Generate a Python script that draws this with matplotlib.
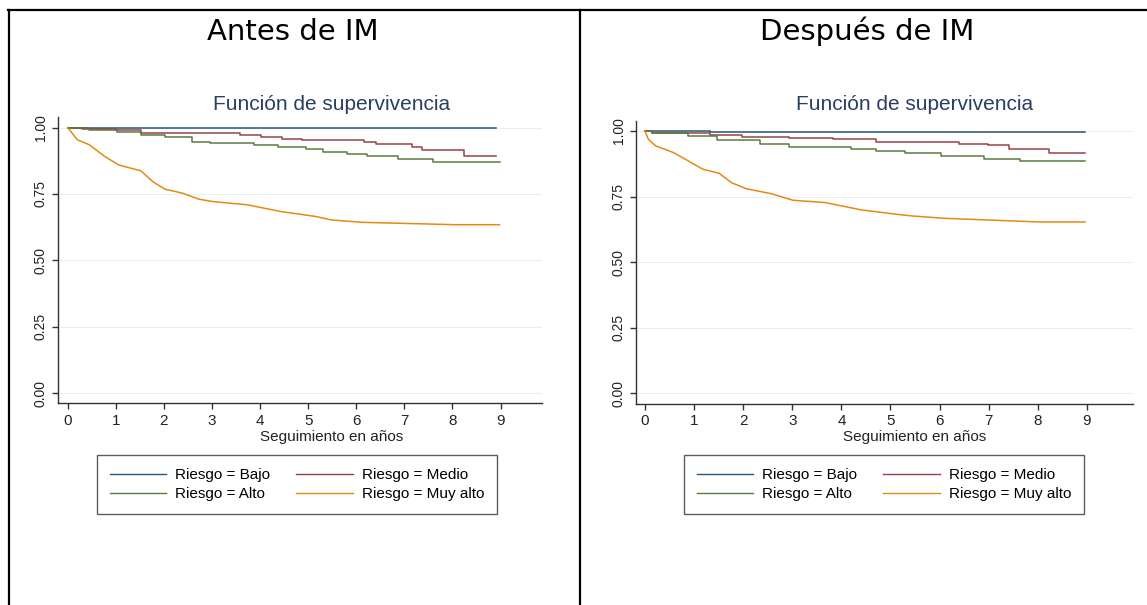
import matplotlib.pyplot as plt
import matplotlib.lines as mlines

plt.rcParams['font.family'] = ['Liberation Sans', 'DejaVu Sans']

# leyenda y colores (Stata s2color)
grupos = ['Riesgo = Bajo', 'Riesgo = Medio', 'Riesgo = Alto', 'Riesgo = Muy alto']
colores = ['#2b5478', '#94424a', '#5c7a3c', '#e38a12']

x_ticks = [0, 1, 2, 3, 4, 5, 6, 7, 8, 9]
y_ticks = [0.00, 0.25, 0.50, 0.75, 1.00]

# Antes de IM
antes_bajo_t = [0, 8.91]
antes_bajo_s = [1.0, 1.0]
antes_medio_t = [0, 0.3, 1.0, 1.52, 3.59, 4.02, 4.45, 4.88, 6.16, 6.41, 7.16, 7.37, 8.23, 8.91]
antes_medio_s = [1.0, 0.995, 0.99, 0.979, 0.970, 0.964, 0.957, 0.954, 0.947, 0.938, 0.928, 0.916, 0.893, 0.893]
antes_alto_t = [0, 0.45, 1.02, 1.52, 2.02, 2.59, 2.95, 3.88, 4.38, 4.95, 5.30, 5.80, 6.23, 6.87, 7.59, 8.98]
antes_alto_s = [1.0, 0.991, 0.985, 0.972, 0.964, 0.947, 0.941, 0.935, 0.926, 0.920, 0.907, 0.901, 0.893, 0.881, 0.872, 0.872]
antes_muyalto_t = [0, 0.20, 0.45, 0.77, 1.06, 1.52, 1.77, 2.02, 2.38, 2.73, 3.02, 3.73, 4.45, 5.16, 5.48, 6.12, 8.05, 8.98]
antes_muyalto_s = [1.0, 0.954, 0.935, 0.891, 0.859, 0.837, 0.796, 0.768, 0.753, 0.730, 0.721, 0.709, 0.683, 0.665, 0.652, 0.643, 0.634, 0.634]

# Despues de IM
desp_bajo_t = [0, 1.32, 8.96]
desp_bajo_s = [1.0, 0.996, 0.996]
desp_medio_t = [0, 0.15, 1.32, 1.98, 2.94, 3.82, 4.70, 6.39, 6.98, 7.42, 8.23, 8.96]
desp_medio_s = [1.0, 0.994, 0.983, 0.978, 0.975, 0.968, 0.958, 0.952, 0.945, 0.933, 0.915, 0.915]
desp_alto_t = [0, 0.15, 0.88, 1.47, 2.35, 2.94, 4.19, 4.70, 5.29, 6.02, 6.91, 7.64, 8.96]
desp_alto_s = [1.0, 0.994, 0.981, 0.966, 0.949, 0.940, 0.930, 0.924, 0.915, 0.905, 0.892, 0.884, 0.884]
desp_muyalto_t = [0, 0.07, 0.22, 0.59, 0.88, 1.18, 1.51, 1.76, 2.06, 2.57, 3.01, 3.67, 4.41, 5.14, 5.44, 6.10, 8.05, 8.96]
desp_muyalto_s = [1.0, 0.968, 0.943, 0.917, 0.886, 0.854, 0.839, 0.803, 0.780, 0.761, 0.736, 0.727, 0.699, 0.682, 0.676, 0.667, 0.653, 0.653]

W, H = 1147, 605
fig = plt.figure(figsize=(W / 100, H / 100), dpi=100)


def px(x0, x1, ytop, ybot):
    return [x0 / W, 1 - ybot / H, (x1 - x0) / W, (ybot - ytop) / H]


def panel(rect, xlim, ylim, curvas, cx, leg_cx, cab, cab_cx):
    ax = fig.add_axes(rect)
    for i, (t, s) in enumerate(curvas):
        if i == 3:
            ax.plot(t, s, color=colores[i], lw=1.1)
        else:
            ax.plot(t, s, color=colores[i], lw=1.1, drawstyle='steps-post')
    ax.set_xlim(*xlim)
    ax.set_ylim(*ylim)
    ax.set_xticks(x_ticks)
    ax.set_yticks(y_ticks)
    ax.set_yticklabels(['%.2f' % v for v in y_ticks], rotation=90, va='center')
    ax.tick_params(axis='both', length=4.5, width=1, color='#333333', labelcolor='#222222')
    ax.tick_params(axis='x', pad=3, labelsize=11)
    ax.tick_params(axis='y', pad=3, labelsize=10)
    for lab in ax.get_yticklabels():
        lab.set_va('center')
    ax.yaxis.grid(True, color='#e8eff1', lw=0.8)
    ax.set_axisbelow(True)
    for sp in ['top', 'right']:
        ax.spines[sp].set_visible(False)
    for sp in ['left', 'bottom']:
        ax.spines[sp].set_color('#333333')
        ax.spines[sp].set_linewidth(1.0)

    fig.text(cx / W, 1 - 110 / H, 'Función de supervivencia', ha='center', va='baseline',
             fontsize=15, color='#2a3f5f')
    fig.text(cx / W, 1 - 441.5 / H, 'Seguimiento en años', ha='center', va='baseline',
             fontsize=11, color='#222222')
    fig.text(cab_cx / W, 1 - 40 / H, cab, ha='center', va='baseline', fontsize=21,
             family='DejaVu Sans', color='black')

    h = [mlines.Line2D([], [], color=c, lw=1.0) for c in colores]
    orden = [0, 2, 1, 3]
    leg = fig.legend([h[i] for i in orden], [grupos[i] for i in orden], ncol=2,
                     loc='upper center', bbox_to_anchor=(leg_cx / W, 1 - 455 / H),
                     frameon=True, fancybox=False, fontsize=11, handlelength=3.7,
                     handletextpad=0.6, columnspacing=1.7, labelspacing=0.35,
                     borderpad=0.85, borderaxespad=0)
    leg.get_frame().set_edgecolor('#333333')
    leg.get_frame().set_linewidth(1.0)
    return ax


panel(px(58, 542, 116.9, 403.4), (-0.2017, 9.861), (-0.039, 1.04),
      [(antes_bajo_t, antes_bajo_s), (antes_medio_t, antes_medio_s),
       (antes_alto_t, antes_alto_s), (antes_muyalto_t, antes_muyalto_s)],
      332, 297, 'Antes de IM', 293)

panel(px(636, 1133, 120.5, 404), (-0.183, 9.939), (-0.041, 1.04),
      [(desp_bajo_t, desp_bajo_s), (desp_medio_t, desp_medio_s),
       (desp_alto_t, desp_alto_s), (desp_muyalto_t, desp_muyalto_s)],
      915, 884, 'Después de IM', 867)

# marco de la tabla
fig.add_artist(mlines.Line2D([8 / W, 1], [1 - 10 / H, 1 - 10 / H], color='black', lw=1.6))
fig.add_artist(mlines.Line2D([9 / W, 9 / W], [0, 1 - 10 / H], color='black', lw=1.6))
fig.add_artist(mlines.Line2D([580 / W, 580 / W], [0, 1 - 10 / H], color='black', lw=1.6))

fig.savefig('out.png', dpi=100, facecolor='white')
